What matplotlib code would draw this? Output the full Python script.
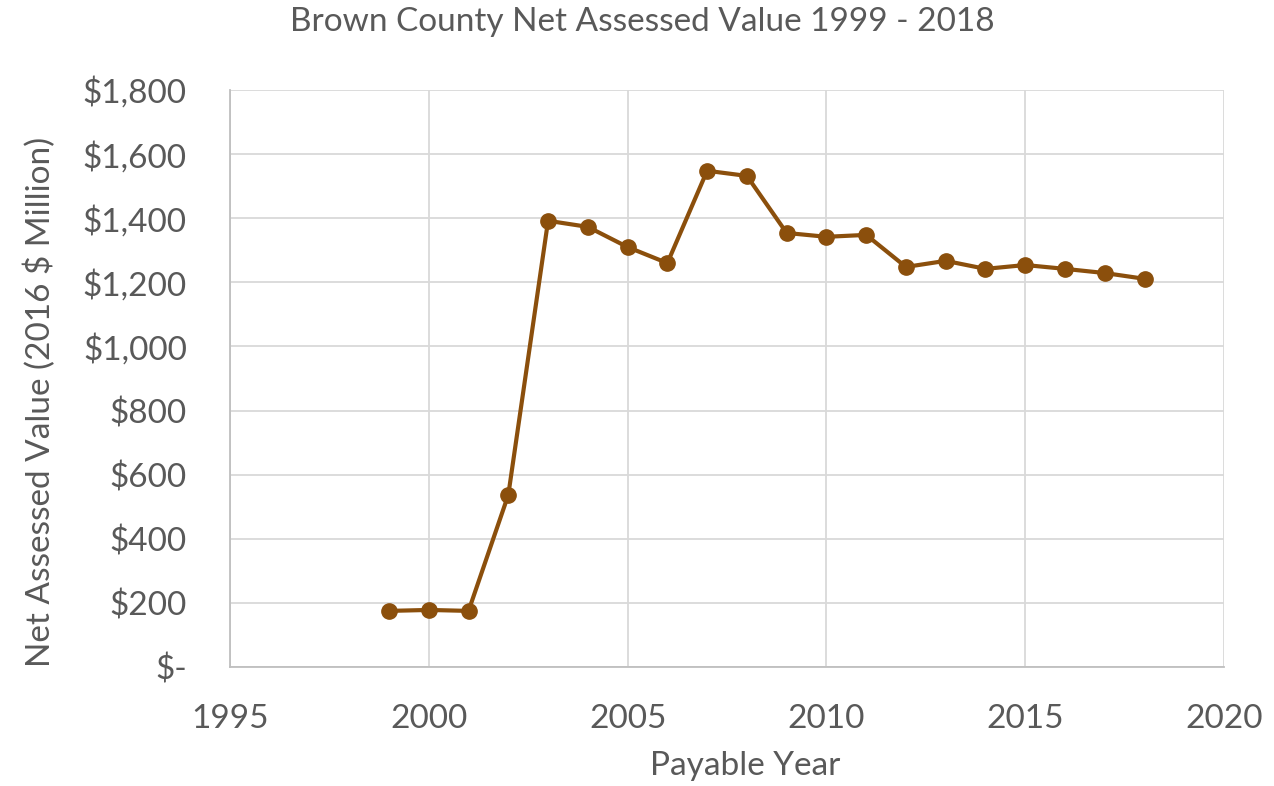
import matplotlib.pyplot as plt
from matplotlib.ticker import FuncFormatter

years = [1999, 2000, 2001, 2002, 2003, 2004, 2005, 2006, 2007, 2008,
         2009, 2010, 2011, 2012, 2013, 2014, 2015, 2016, 2017, 2018]
values = [175, 178, 175, 537, 1392, 1373, 1310, 1260, 1548, 1532,
          1354, 1342, 1348, 1248, 1267, 1242, 1254, 1242, 1229, 1211]

x_ticks = [1995, 2000, 2005, 2010, 2015, 2020]
y_ticks = [0, 200, 400, 600, 800, 1000, 1200, 1400, 1600, 1800]

text_color = "#595959"
line_color = "#8B4F0C"

plt.rcParams['font.family'] = ['Lato', 'DejaVu Sans']

fig = plt.figure(figsize=(12.74, 7.86), dpi=100)
ax = fig.add_axes([0.1805, 0.1514, 0.7803, 0.7341])

ax.plot(years, values, color=line_color, linewidth=3, marker='o',
        markersize=11, zorder=3)

ax.set_xlim(1995, 2020)
ax.set_ylim(0, 1800)
ax.set_xticks(x_ticks)
ax.set_yticks(y_ticks)


def dollar(v, pos):
    if v == 0:
        return "$-"
    return f"${v:,.0f}"


ax.yaxis.set_major_formatter(FuncFormatter(dollar))
ax.grid(True, color="#D9D9D9", linewidth=1.3)
ax.set_axisbelow(True)
for side in ['top', 'right']:
    ax.spines[side].set_visible(False)
for side in ['left', 'bottom']:
    ax.spines[side].set_color("#BFBFBF")
    ax.spines[side].set_linewidth(1.3)
ax.tick_params(length=0, labelsize=24, colors=text_color)
ax.tick_params(axis='y', pad=31)
ax.tick_params(axis='x', pad=27)

# axis titles and chart title placed in figure coordinates
fig.text(40 / 1274, 0.489, "Net Assessed Value (2016 $ Million)",
         fontsize=24, color=text_color, rotation=90, ha='center', va='center')
fig.text(745 / 1274, 1 - 766 / 786, "Payable Year", fontsize=24,
         color=text_color, ha='center', va='center')
fig.text(642 / 1274, 1 - 22 / 786, "Brown County Net Assessed Value 1999 - 2018",
         fontsize=24, color=text_color, ha='center', va='center')

fig.savefig("out.png", dpi=100)
